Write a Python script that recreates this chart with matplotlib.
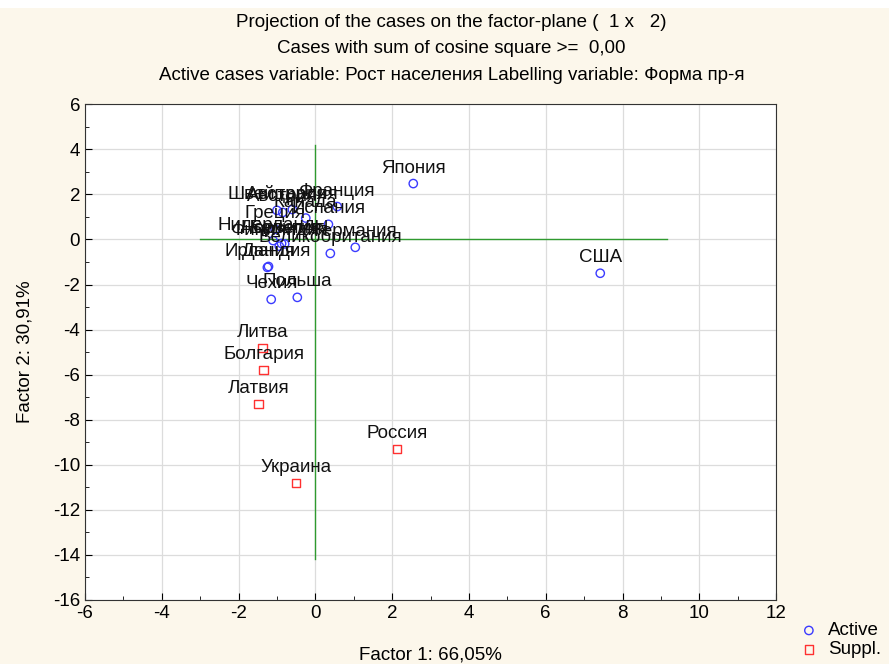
import matplotlib.pyplot as plt
from matplotlib.patches import Rectangle
from matplotlib.ticker import MultipleLocator

plt.rcParams['font.family'] = ['Liberation Sans', 'DejaVu Sans']
plt.rcParams['axes.unicode_minus'] = False

# active cases (factor 1, factor 2 coordinates)
active_names = ['Япония', 'США', 'Франция', 'Швейцария', 'Австралия', 'Австрия',
                'Канада', 'Испания', 'Греция', 'Нидерланды', 'Норвегия',
                'Германия', 'Великобритания', 'Финляндия', 'Бельгия',
                'Ирландия', 'Дания', 'Польша', 'Чехия']
active_f1 = [2.55, 7.42, 0.57, -1.00, -0.60, -0.85, -0.25, 0.34, -1.05, -1.10,
             -0.88, 1.04, 0.39, -0.94, -0.80, -1.25, -1.22, -0.47, -1.15]
active_f2 = [2.48, -1.50, 1.46, 1.29, 1.33, 1.20, 0.95, 0.67, 0.45, -0.05,
             -0.18, -0.35, -0.62, -0.30, -0.20, -1.24, -1.20, -2.57, -2.66]

# supplementary cases
suppl_names = ['Литва', 'Болгария', 'Латвия', 'Россия', 'Украина']
suppl_f1 = [-1.38, -1.35, -1.48, 2.13, -0.50]
suppl_f2 = [-4.83, -5.80, -7.30, -9.30, -10.80]

# extent of the origin cross
cross_x = (-3.0, 9.15)
cross_y = (-14.2, 4.2)

fs = 13.5
bg = '#fcf7eb'
fig = plt.figure(figsize=(8.89, 6.64), dpi=100, facecolor=bg)
fig.patches.append(Rectangle((0, 0.988), 1, 0.012, transform=fig.transFigure,
                             facecolor='white', edgecolor='none', zorder=-1))
ax = fig.add_axes([0.0956, 0.0964, 0.7774, 0.7466])

ax.plot(cross_x, [0, 0], color='#2f9a2f', lw=1.0, zorder=2)
ax.plot([0, 0], cross_y, color='#2f9a2f', lw=1.0, zorder=2)

ax.scatter(active_f1, active_f2, s=36, facecolors='none', edgecolors='#3b3bff',
           linewidths=1.0, label='Active', zorder=3)
ax.scatter(suppl_f1, suppl_f2, s=36, marker='s', facecolors='none',
           edgecolors='#ff3030', linewidths=1.0, label='Suppl.', zorder=3)

for name, x, y in zip(active_names + suppl_names, active_f1 + suppl_f1,
                      active_f2 + suppl_f2):
    ax.annotate(name, (x, y), xytext=(0, 5), textcoords='offset points',
                ha='center', va='bottom', fontsize=fs, color='#111111', zorder=4)

ax.set_xlim(-6, 12)
ax.set_ylim(-16, 6)
ax.xaxis.set_major_locator(MultipleLocator(2))
ax.xaxis.set_minor_locator(MultipleLocator(1))
ax.yaxis.set_major_locator(MultipleLocator(2))
ax.yaxis.set_minor_locator(MultipleLocator(1))
ax.tick_params(which='both', direction='in', top=False, right=False, labelsize=fs)
ax.tick_params(which='major', length=5)
ax.tick_params(which='minor', length=3)
ax.grid(True, which='major', color='#dcdcdc', lw=0.9, zorder=0)
ax.set_axisbelow(True)
for s in ax.spines.values():
    s.set_color('#333333')

ax.set_xlabel('Factor 1: 66,05%', fontsize=fs, labelpad=18)
ax.set_ylabel('Factor 2: 30,91%', fontsize=fs, labelpad=14)

fig.text(0.508, 0.966, 'Projection of the cases on the factor-plane (  1 x   2)',
         ha='center', va='center', fontsize=fs)
fig.text(0.508, 0.927, 'Cases with sum of cosine square >=  0,00',
         ha='center', va='center', fontsize=fs)
fig.text(0.508, 0.887, 'Active cases variable: Рост населения Labelling variable: Форма пр-я',
         ha='center', va='center', fontsize=fs)

fig.legend(loc='lower left', bbox_to_anchor=(0.893, 0.0), frameon=False,
           fontsize=fs, handlelength=1.0, handletextpad=0.5, labelspacing=0.1,
           borderaxespad=0.0, borderpad=0.3)

fig.savefig('out.png', dpi=100, facecolor=bg)
